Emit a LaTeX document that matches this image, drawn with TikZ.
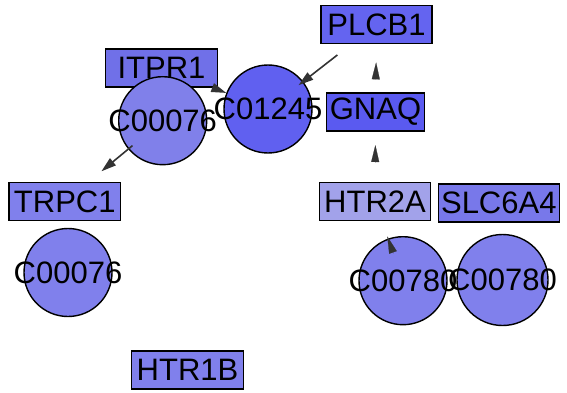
\documentclass[tikz,border=0pt]{standalone}
\usepackage{fontspec}
\setmainfont{Liberation Sans}
\usetikzlibrary{arrows.meta,calc}
\definecolor{cPLCB}{RGB}{100,100,240}
\definecolor{cGNAQ}{RGB}{90,90,240}
\definecolor{cITPR}{RGB}{112,112,232}
\definecolor{cC1245}{RGB}{96,96,240}
\definecolor{cC76a}{RGB}{128,128,234}
\definecolor{cStd}{RGB}{128,128,236}
\definecolor{cSLC}{RGB}{120,120,234}
\definecolor{cHTR2A}{RGB}{162,162,234}
\definecolor{edgegray}{RGB}{51,51,51}
\tikzset{
  gene/.style={draw=black, line width=1.4pt, rectangle, inner sep=0pt,
    minimum height=38pt, font=\fontsize{31}{36}\selectfont},
  cpd/.style={draw=black, line width=1.4pt, circle, inner sep=0pt, minimum size=88pt},
  cpdlabel/.style={font=\fontsize{31}{36}\selectfont},
  edge/.style={draw=edgegray, line width=1.6pt, -{Triangle[width=9pt,length=15pt]}},
  ghost/.style={draw=edgegray, line width=0.2pt, line cap=butt, -{Triangle[width=8pt,length=17pt]}},
}
\begin{document}
\begin{tikzpicture}[x=1pt,y=-1pt]
\useasboundingbox (0,0) rectangle (567,393);
% genes
\node[gene, fill=cPLCB, minimum width=111pt] (PLCB1) at (376.5,24.5) {PLCB1};
\node[gene, fill=cITPR, minimum width=111.5pt] (ITPR1) at (161.5,68) {ITPR1};
\node[gene, fill=cGNAQ, minimum width=97.5pt] (GNAQ) at (375.5,112) {GNAQ};
\node[gene, fill=cHTR2A, minimum width=111pt] (HTR2A) at (375,201.7) {HTR2A};
\node[gene, fill=cSLC, minimum width=121pt] (SLC6A4) at (498.8,203) {SLC6A4};
\node[gene, fill=cStd, minimum width=111.5pt] (TRPC1) at (64.8,201.5) {TRPC1};
\node[gene, fill=cStd, minimum width=111.5pt] (HTR1B) at (187.5,370) {HTR1B};
% compounds
\node[cpd, fill=cC76a] (C76a) at (162.7,120.7) {};
\node[cpdlabel] (C76aL) at (C76a.center) {C00076};
\node[cpd, fill=cC1245] (C1245) at (268,109) {};
\node[cpdlabel] (C1245L) at (C1245.center) {C01245};
\node[cpd, fill=cStd] (C76b) at (68,272.5) {};
\node[cpdlabel] (C76bL) at (C76b.center) {C00076};
\node[cpd, fill=cStd] (C780a) at (403,280.7) {};
\node[cpd, fill=cStd, minimum size=91pt] (C780b) at (502.5,280) {};
\node[cpdlabel] (C780aL) at (C780a.center) {C00780};
\node[cpdlabel] (C780bL) at (C780b.center) {C00780};
% edges
\draw[edge, shorten <=17.5pt, shorten >=-6pt] (PLCB1) -- (C1245);
\draw[edge] (ITPR1) -- (C1245);
\draw[edge, shorten <=-5.5pt, shorten >=16.5pt] (C76a) -- (TRPC1);
% arrowheads without visible lines
\draw[ghost] ($(GNAQ.north)!13.3pt!(PLCB1.south)$) -- ($(GNAQ.north)!30pt!(PLCB1.south)$);
\draw[ghost] ($(HTR2A.north)!19.4pt!(GNAQ.south)$) -- ($(HTR2A.north)!37pt!(GNAQ.south)$);
\draw[ghost] ($(C780a.center)!29pt!(HTR2A.center)$) -- ($(C780a.center)!47pt!(HTR2A.center)$);
\end{tikzpicture}
\end{document}
